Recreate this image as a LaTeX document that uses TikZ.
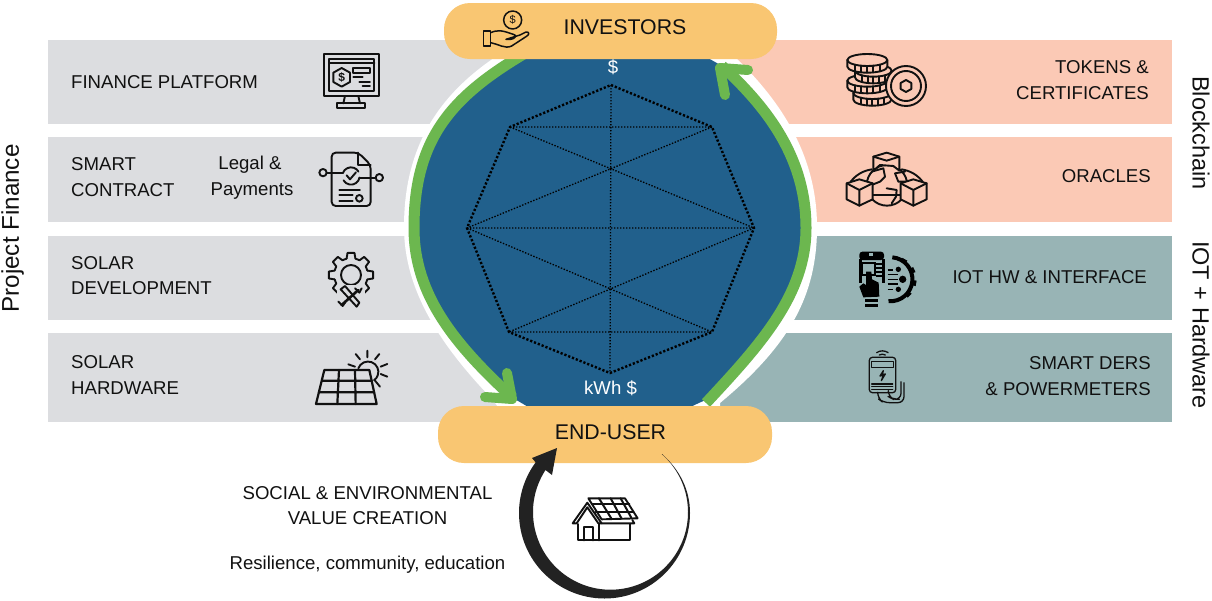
\documentclass[tikz,border=0pt]{standalone}
\usepackage{fontspec}
\setmainfont{Liberation Sans}
\definecolor{graybox}{HTML}{DCDDE0}
\definecolor{peachbox}{HTML}{FBC9B5}
\definecolor{tealbox}{HTML}{98B4B5}
\definecolor{pillc}{HTML}{F9C672}
\definecolor{bluec}{HTML}{21608C}
\definecolor{greenc}{HTML}{6CB74F}
\definecolor{ink}{HTML}{111111}
\definecolor{swirl}{HTML}{222222}
\newcommand{\fs}[1]{\fontsize{#1}{#1}\selectfont}
\newcommand{\leftarc}{(527,52) .. controls (452,96) and (414,138) .. (414,228) .. controls (414,295) and (455,345) .. (513,398)}
\newcommand{\rightarc}{(706,403) .. controls (760,345) and (806,295) .. (806,228) .. controls (806,160) and (770,110) .. (722,66)}
\tikzset{
  x=1pt,y=-1pt,
  pill/.style={fill=pillc,rounded corners=26pt,draw=none},
  lab/.style={anchor=west,align=left,font=\fs{18.6},text=ink,inner sep=0pt},
  labr/.style={anchor=east,align=right,font=\fs{18.6},text=ink,inner sep=0pt},
  lab2/.style={align=left,font=\fs{18.6},text=ink,inner sep=0pt,text height=13pt,text depth=0pt},
  side/.style={font=\fs{23.5},text=ink,inner sep=0pt},
  ico/.style={draw=ink,line width=1.9pt,line join=round,line cap=round},
  icoth/.style={draw=ink,line width=1.3pt,line join=round,line cap=round},
  polyout/.style={draw=black,line width=2.4pt,dash pattern=on 2.2pt off 1.9pt},
  polyin/.style={draw=black,line width=1.3pt,dash pattern=on 1.4pt off 1.6pt},
  greenline/.style={draw=greenc,line width=11pt},
  greenhead/.style={draw=greenc,line width=10pt,line cap=round,line join=round},
}
\newcommand{\coin}[3]{% cx cy rx
  \filldraw[ico,fill=peachbox] (#1-#3,#2) -- (#1-#3,#2+20) arc[start angle=180,end angle=0,x radius=#3,y radius=18] -- (#1+#3,#2) arc[start angle=0,end angle=-180,x radius=#3,y radius=18] -- cycle;
  \draw[ico] (#1-#3,#2) arc[start angle=180,end angle=0,x radius=#3,y radius=18];
  \foreach \t/\f in {-.62/14,-.3/17,0/18,.3/17,.62/14}{\draw[ico] (#1+\t*#3,#2+\f) -- (#1+\t*#3,#2+\f+20);}
}
\begin{document}
\begin{tikzpicture}
\useasboundingbox (0,0) rectangle (1212,600);
% row boxes
\fill[graybox] (48,40) rectangle (520,124);
\fill[graybox] (48,137) rectangle (520,222);
\fill[graybox] (48,236) rectangle (520,320);
\fill[graybox] (48,333) rectangle (520,422);
\fill[peachbox] (700,40) rectangle (1172,124);
\fill[peachbox] (700,137) rectangle (1172,222);
\fill[tealbox] (700,236) rectangle (1172,320);
\fill[tealbox] (700,333) rectangle (1172,422);
% central lens
\fill[white] (503,48) -- (503,52) .. controls (440,92) and (404,145) .. (404,227) .. controls (404,290) and (440,345) .. (493,400) -- (500,410) -- (720,410) -- (720,403) .. controls (790,345) and (817,295) .. (817,227) .. controls (817,150) and (775,95) .. (733,55) -- (733,48) -- cycle;
\fill[bluec] (527,48) -- (527,52) .. controls (452,96) and (414,138) .. (414,228) .. controls (414,295) and (455,345) .. (513,398) -- (530,408) -- (688,408) .. controls (693,406) and (698,403) .. (706,400) .. controls (760,345) and (806,295) .. (806,228) .. controls (806,160) and (770,110) .. (722,66) -- (708,58) -- (708,48) -- cycle;
\draw[greenline] \leftarc;
\draw[greenline] \rightarc;
\draw[greenhead] (507,373) -- (512,399) -- (485,397);
\draw[greenhead] (748,70) -- (720,68) -- (725,95);
% polygon
\coordinate (pT) at (611,85); \coordinate (pUR) at (712,127); \coordinate (pR) at (754,228);
\coordinate (pLR) at (712,332); \coordinate (pB) at (610,373); \coordinate (pLL) at (509,332);
\coordinate (pL) at (467,228); \coordinate (pUL) at (510,127);
\draw[polyin] (pUL) -- (pUR) (pL) -- (pR) (pLL) -- (pLR) (pT) -- (pB)
  (pUL) -- (pR) (pUR) -- (pL) (pL) -- (pLR) (pR) -- (pLL);
\draw[polyout] (pT) -- (pUR) -- (pR) -- (pLR) -- (pB) -- (pLL) -- (pL) -- (pUL) -- cycle;
\node[text=white,font=\fs{18.6},inner sep=0pt] (dollar) at (613,67) {\$};
\node[text=white,font=\fs{18.6},inner sep=0pt] (kwh) at (610.5,388) {kWh \$};
% pills
\fill[pill] (444,3) rectangle (777,59);
\fill[pill] (438,406) rectangle (772,463);
\node[font=\fs{21.3},text=ink,inner sep=0pt] (inv) at (625,27) {INVESTORS};
\node[font=\fs{21.3},text=ink,inner sep=0pt] (eu) at (610.5,432) {END-USER};
% hand icon
\begin{scope}[shift={(400,0)},x=.3333pt,y=-.3333pt]
\draw[ico,line width=1.5pt] (338,60) circle[radius=27];
\node[font=\fs{11},text=ink,inner sep=0pt] at (338,60) {\$};
\draw[ico,line width=1.5pt] (250,93) rectangle (272,138);
\draw[ico,line width=1.5pt] (272,98) .. controls (295,88) and (310,92) .. (345,105) .. controls (350,115) and (335,120) .. (318,118) (318,118) -- (360,105) -- (378,96) .. controls (390,95) and (388,105) .. (378,110) -- (335,138) .. controls (315,148) and (295,132) .. (272,128);
\end{scope}
% side and row labels
\node[side,rotate=90,font=\fs{24.2}] (pf) at (12.5,228.5) {Project Finance};
\node[side,rotate=-90] (bc) at (1201,133) {Blockchain};
\node[side,rotate=-90] (ih) at (1201,325) {IOT + Hardware};
\node[lab] (l1) at (71,82) {FINANCE PLATFORM};
\node[lab2,anchor=north west] (l2) at (71,157) {SMART};
\node[lab2,anchor=north west] (l2b) at (71,183) {CONTRACT};
\node[lab2,anchor=north] (l2c) at (250,156) {Legal \&};
\node[lab2,anchor=north] (l2d) at (252,182) {Payments};
\node[lab2,anchor=north west] (l3) at (71,256) {SOLAR};
\node[lab2,anchor=north west] (l3b) at (71,281) {DEVELOPMENT};
\node[lab2,anchor=north west] (l4) at (71,355) {SOLAR};
\node[lab2,anchor=north west] (l4b) at (71,381) {HARDWARE};
\node[lab2,anchor=north east] (r1) at (1149,60) {TOKENS \&};
\node[lab2,anchor=north east] (r1b) at (1149,86) {CERTIFICATES};
\node[labr] (r2) at (1151,176) {ORACLES};
\node[labr] (r3) at (1147,277) {IOT HW \& INTERFACE};
\node[lab2,anchor=north east] (r4) at (1151,356) {SMART DERS};
\node[lab2,anchor=north east] (r4b) at (1151,382) {\& POWERMETERS};
\node[font=\fs{18.6},text=ink,inner sep=0pt] (s1) at (367.5,493) {SOCIAL \& ENVIRONMENTAL};
\node[font=\fs{18.6},text=ink,inner sep=0pt] (s2) at (367.5,518) {VALUE CREATION};
\node[font=\fs{18.6},text=ink,inner sep=0pt] (s3) at (367.5,565) {Resilience, community, education};
% monitor + document
\begin{scope}[shift={(290,40)},x=.3333pt,y=-.3333pt]
\draw[ico] (102,43) rectangle (268,168);
\draw[ico] (117,58) rectangle (253,152);
\draw[ico] (117,70) -- (253,70);
\draw[ico] (155,84) -- (180,98) -- (180,126) -- (155,140) -- (130,126) -- (130,98) -- cycle;
\node[font=\fs{12},text=ink,inner sep=0pt] at (155,112) {\textbf{\$}};
\draw[ico] (190,85) rectangle (240,98);
\draw[ico] (190,112) -- (218,112) (208,125) -- (240,125) (218,138) -- (240,138);
\draw[ico] (165,168) -- (160,190) (205,168) -- (210,190);
\draw[ico] (142,190) rectangle (225,205);
% document
\draw[ico,rounded corners=4pt] (205,338) -- (125,338) -- (125,498) -- (242,498) -- (242,375) -- cycle;
\draw[ico] (205,338) -- (205,375) -- (242,375);
\draw[ico] (99,398) circle[radius=11] (268,413) circle[radius=11];
\draw[ico] (110,398) -- (159,398) (208,413) -- (257,413);
\draw[ico] (183,408) ++(200:26) arc[start angle=200,end angle=330,radius=26];
\draw[ico] (183,408) ++(10:26) arc[start angle=10,end angle=150,radius=26];
\draw[ico] (170,406) -- (180,418) -- (198,397);
\draw[ico] (148,450) -- (210,450) (148,465) -- (188,465) (148,482) -- (188,482);
\draw[ico] (208,475) circle[radius=10];
\end{scope}
% gear + solar panel
\begin{scope}[shift={(290,240)},x=.3333pt,y=-.3333pt]
\draw[ico] (183,105) circle[radius=30];
\foreach \a in {0,45,...,315}{
  \draw[ico,shift={(183,105)}] (\a-15:51) -- (\a-9:67) -- (\a+9:67) -- (\a+15:51) -- (\a+30:51);
}
\fill[graybox] (140,135) rectangle (225,205);
\draw[ico] (152,148) -- (200,200) -- (208,188) -- (165,138) -- cycle;
\draw[ico,line width=2.6pt] (205,150) -- (155,195);
\draw[ico] (195,145) -- (208,158) -- (215,145) (145,185) -- (158,198) -- (165,188);
% panel
\draw[ico,line width=2.2pt] (103,390) -- (238,390) -- (260,492) -- (78,492) -- cycle;
\draw[ico,line width=2.2pt] (96,422) -- (245,422) (87,457) -- (252,457) (147,390) -- (142,492) (195,390) -- (197,492);
\draw[ico] (205,385) arc[start angle=-160,end angle=55,radius=31];
\draw[ico] (232,332) -- (232,352) (197,342) -- (210,358) (268,342) -- (255,358) (175,373) -- (195,380) (292,372) -- (272,380) (292,410) -- (272,402) (270,440) -- (255,422);
\end{scope}
% coins + oracles
\begin{scope}[shift={(830,40)},x=.3333pt,y=-.3333pt]
\coin{127}{159}{57}
\coin{112}{122}{60}
\coin{130}{92}{55}
\coin{112}{60}{60}
\filldraw[ico,fill=peachbox] (228,138) circle[radius=60];
\draw[ico] (228,138) circle[radius=45];
\draw[ico] (228,120) -- (244,129) -- (244,147) -- (228,156) -- (212,147) -- (212,129) -- cycle;
% oracles: globe and cubes
\draw[ico] (171,436) circle[radius=61];
\draw[ico] (62,425) .. controls (85,395) and (115,390) .. (125,388);
\draw[ico] (278,425) .. controls (255,395) and (225,390) .. (215,388);
\draw[ico] (105,465) -- (235,465);
\draw[ico] (125,395) -- (160,385) -- (165,410) -- (150,425) -- (125,435) (195,400) -- (225,395) (195,400) -- (205,425) -- (228,425) (170,445) -- (200,450) -- (198,470) -- (185,490);
\filldraw[ico,fill=peachbox] (130,350) -- (170,338) -- (208,350) -- (208,392) -- (190,378) -- (150,375) -- (130,392) -- cycle;
\draw[ico] (130,350) -- (170,362) -- (208,350);
\filldraw[ico,fill=peachbox] (50,430) -- (88,418) -- (128,430) -- (128,478) -- (88,497) -- (50,478) -- cycle;
\draw[ico] (50,430) -- (88,450) -- (128,430) (88,450) -- (88,497);
\filldraw[ico,fill=peachbox] (212,430) -- (250,418) -- (290,430) -- (290,478) -- (250,497) -- (212,478) -- cycle;
\draw[ico] (212,430) -- (250,450) -- (290,430) (250,450) -- (250,497);
\end{scope}
% iot + meter
\begin{scope}[shift={(830,240)},x=.3333pt,y=-.3333pt]
\draw[black,line width=4pt] (187,52) arc[start angle=-85,end angle=95,radius=66];
\foreach \a in {-60,-25,10,45}{\fill[black,shift={(190,118)}] (\a-7:60) -- (\a-7:70) -- (\a+7:70) -- (\a+7:60) -- cycle;}
\fill[black] (205,88) circle[radius=8] (218,118) circle[radius=11] (205,148) circle[radius=8];
\draw[black,line width=1.6pt] (173,90) -- (190,90) (173,104) -- (205,104) (173,118) -- (205,118) (173,132) -- (205,132) (173,148) -- (190,148);
\fill[black,rounded corners=3pt] (88,35) rectangle (162,60);
\fill[tealbox] (118,38) rectangle (128,47);
\draw[black,line width=3pt] (90,58) -- (90,130) (160,58) -- (160,130);
\draw[black,line width=1.8pt] (96,68) rectangle (135,105);
\draw[black,line width=1.6pt] (138,72) -- (155,72) (138,84) -- (155,84) (138,96) -- (155,96) (138,108) -- (155,108);
\fill[black] (108,95) -- (124,95) -- (126,118) -- (146,128) -- (148,170) -- (100,172) -- (88,140) -- (100,130) -- (108,135) -- cycle;
\fill[black] (104,178) rectangle (145,186);
\fill[black] (104,192) rectangle (145,200);
% meter
\draw[icoth,rounded corners=3pt] (118,352) rectangle (197,458);
\draw[icoth] (124,364) rectangle (190,382);
\draw[icoth] (160,392) -- (150,408) -- (160,406) -- (154,422) -- (166,402) -- (157,404) -- cycle;
\draw[icoth] (125,432) -- (188,432) (125,440) -- (188,440) (125,448) -- (188,448);
\draw[icoth] (148,345) arc[start angle=-120,end angle=-60,radius=18];
\draw[icoth] (140,338) arc[start angle=-125,end angle=-55,radius=30];
\draw[icoth,rounded corners=6pt] (143,458) -- (143,475) -- (160,488) -- (222,488) -- (222,428);
\draw[icoth,rounded corners=6pt] (175,458) -- (175,470) -- (190,478) -- (213,478) -- (213,425);
\end{scope}
% swirl
\fill[swirl] (662,454) .. controls (680,470) and (690,490) .. (690,513) arc[start angle=0,end angle=216.3,radius=85.5] -- (532,458) -- (557,448) -- (552,475) -- (545.5,470) arc[start angle=213,end angle=-48.6,radius=77.5] -- cycle;
% house
\begin{scope}[shift={(500,430)},x=.3333pt,y=-.3333pt]
\draw[ico] (235,282) -- (235,331) -- (390,331) -- (390,282);
\draw[ico] (298,280) -- (298,331);
\draw[ico] (253,331) -- (253,292) -- (280,292) -- (280,331);
\draw[ico,fill=white] (218,280) -- (262,218) -- (305,280) -- (295,280) -- (262,232) -- (230,280) -- cycle;
\draw[ico] (305,280) -- (403,280) -- (397,270);
\filldraw[ico,fill=white] (265,205) -- (375,205) -- (413,265) -- (305,268) -- cycle;
\draw[ico,line width=2pt] (275,222) -- (388,222) (287,245) -- (400,245);
\draw[ico,line width=2pt] (297,205) -- (335,267) (332,205) -- (365,266) (362,205) -- (395,265);
\end{scope}
\end{tikzpicture}
\end{document}
